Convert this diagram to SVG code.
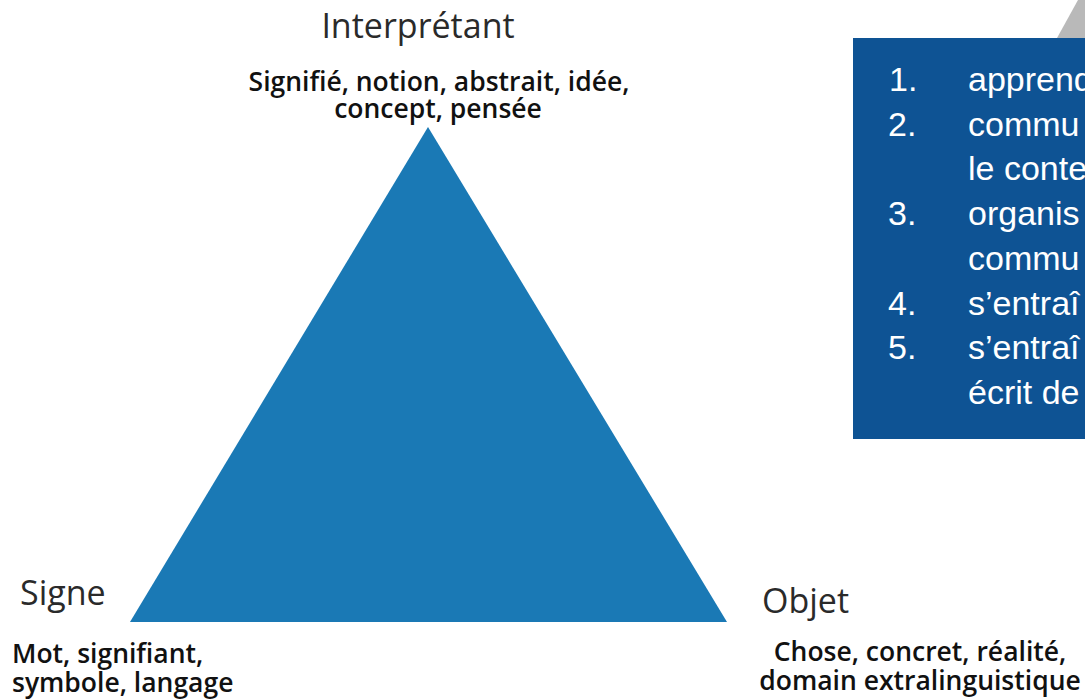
<svg xmlns="http://www.w3.org/2000/svg" width="1085" height="700" viewBox="0 0 1085 700">
<style>
.title{font-family:"Open Sans","Noto Sans",sans-serif;font-size:34px;fill:#2a2a2a;font-weight:400}
.desc{font-family:"Open Sans","Noto Sans",sans-serif;font-size:26.5px;fill:#111;font-weight:600}
.list{font-family:"Liberation Sans",Arial,sans-serif;font-size:34px;fill:#ffffff}
</style>
<rect width="1085" height="700" fill="#ffffff"/>
<g id="triangle">
<polygon points="428,127 130,622 727,622" fill="#1a79b5"/>
</g>
<g id="interpretant">
<text class="title" x="418" y="38" text-anchor="middle">Interprétant</text>
<text class="desc" x="439" y="91" text-anchor="middle">Signifié, notion, abstrait, idée,</text>
<text class="desc" x="438" y="118" text-anchor="middle">concept, pensée</text>
</g>
<g id="signe">
<text class="title" x="20" y="605">Signe</text>
<text class="desc" x="12" y="663">Mot, signifiant,</text>
<text class="desc" x="12" y="692">symbole, langage</text>
</g>
<g id="objet">
<text class="title" x="762" y="613">Objet</text>
<text class="desc" x="920" y="661" text-anchor="middle">Chose, concret, réalité,</text>
<text class="desc" x="920" y="690" text-anchor="middle">domain extralinguistique</text>
</g>
<g id="list-box">
<polygon points="1057,38 1078,0 1085,0 1085,38" fill="#b9b9b9"/>
<rect x="853" y="38" width="240" height="401" fill="#0e5394"/>
<text class="list" x="889" y="91">1.</text><text class="list" x="968" y="91">apprend</text>
<text class="list" x="888" y="136">2.</text><text class="list" x="968" y="136">commu</text>
<text class="list" x="968" y="180">le conte</text>
<text class="list" x="888" y="225">3.</text><text class="list" x="968" y="225">organis</text>
<text class="list" x="968" y="270">commu</text>
<text class="list" x="888" y="315">4.</text><text class="list" x="968" y="315">s’entraî</text>
<text class="list" x="888" y="359">5.</text><text class="list" x="968" y="359">s’entraî</text>
<text class="list" x="968" y="404">écrit de</text>
</g>
</svg>
